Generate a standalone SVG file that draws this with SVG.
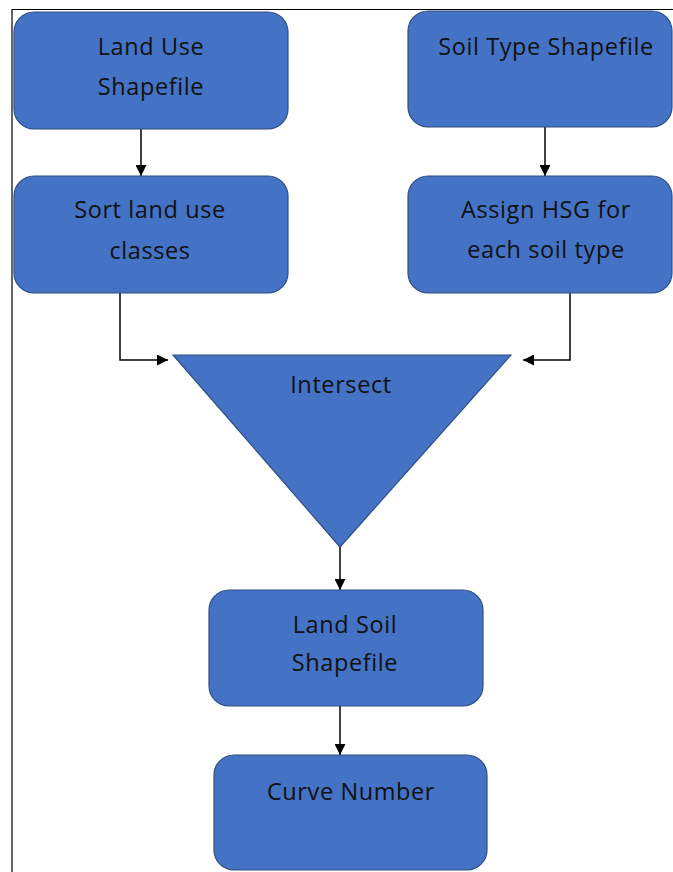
<svg xmlns="http://www.w3.org/2000/svg" width="673" height="872" viewBox="0 0 673 872">
<defs>
<marker id="arr" viewBox="0 0 10 10" refX="10" refY="5" markerWidth="12" markerHeight="11" markerUnits="userSpaceOnUse" orient="auto">
<path d="M0,0 L10,5 L0,10 z" fill="#000"/>
</marker>
<style>
.box{fill:#4472C4;stroke:#2F4F7F;stroke-width:1.2}
.t{font-family:"Open Sans","Liberation Sans",sans-serif;font-size:23.5px;letter-spacing:0.6px;fill:#111;text-anchor:middle}
.c{fill:none;stroke:#000;stroke-width:1.5}
</style>
</defs>
<rect width="673" height="872" fill="#fff"/>
<path d="M12,872 L12,9.5 L673,9.5" fill="none" stroke="#000" stroke-width="1.2"/>
<g id="connectors">
<path class="c" d="M141,129 L141,176" marker-end="url(#arr)"/>
<path class="c" d="M545,127 L545,176" marker-end="url(#arr)"/>
<path class="c" d="M120,293 L120,360 L168,360" marker-end="url(#arr)"/>
<path class="c" d="M570,293 L570,360 L523,360" marker-end="url(#arr)"/>
<path class="c" d="M340,547 L340,590" marker-end="url(#arr)"/>
<path class="c" d="M340,706 L340,755" marker-end="url(#arr)"/>
</g>
<g id="landuse">
<rect class="box" x="14" y="12" width="274" height="117" rx="20"/>
<text class="t" x="151" y="55">Land Use</text>
<text class="t" x="151" y="95">Shapefile</text>
</g>
<g id="soiltype">
<rect class="box" x="408" y="11" width="264" height="116" rx="20"/>
<text class="t" x="546" y="55">Soil Type Shapefile</text>
</g>
<g id="sortland">
<rect class="box" x="14" y="176" width="274" height="117" rx="20"/>
<text class="t" x="150" y="218">Sort land use</text>
<text class="t" x="150" y="259">classes</text>
</g>
<g id="assignhsg">
<rect class="box" x="408" y="176" width="264" height="117" rx="20"/>
<text class="t" x="546" y="218">Assign HSG for</text>
<text class="t" x="546" y="258">each soil type</text>
</g>
<g id="intersect">
<polygon class="box" points="173,355 511,355 340,547"/>
<text class="t" x="341" y="393">Intersect</text>
</g>
<g id="landsoil">
<rect class="box" x="209" y="590" width="274" height="116" rx="20"/>
<text class="t" x="345" y="633">Land Soil</text>
<text class="t" x="345" y="671">Shapefile</text>
</g>
<g id="curvenumber">
<rect class="box" x="214" y="755" width="273" height="115" rx="20"/>
<text class="t" x="351" y="800">Curve Number</text>
</g>
</svg>
